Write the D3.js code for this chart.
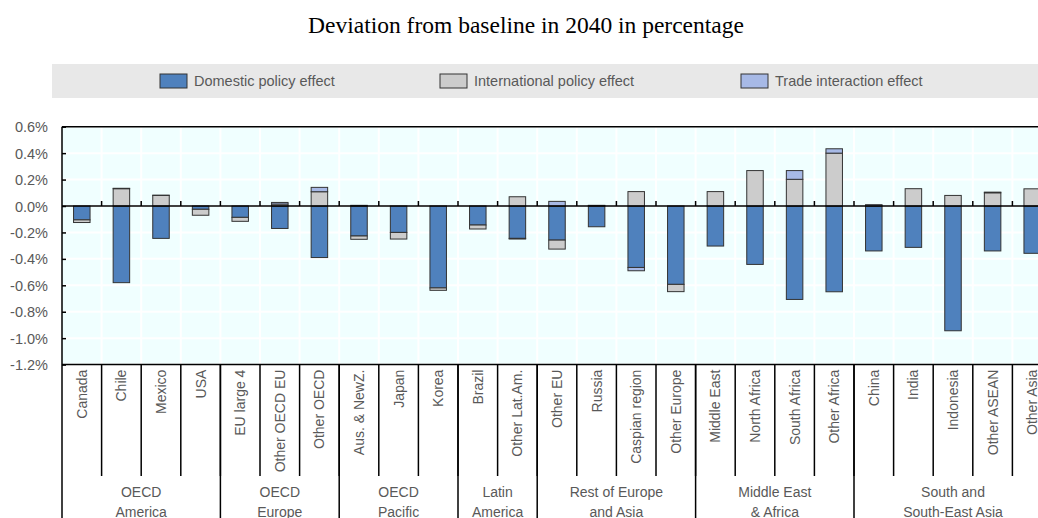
<!DOCTYPE html>
<html>
<head>
<meta charset="utf-8">
<script src="https://cdn.jsdelivr.net/npm/d3@7"></script>
<style>
  body { margin: 0; background: #fff; }
  svg { display: block; }
  text { font-family: "Liberation Sans", Arial, sans-serif; }
</style>
</head>
<body>
<svg id="chart" width="1038" height="518"></svg>
<script>
var categories = ["Canada", "Chile", "Mexico", "USA", "EU large 4", "Other OECD EU", "Other OECD",
  "Aus. & NewZ.", "Japan", "Korea", "Brazil", "Other Lat.Am.", "Other EU", "Russia",
  "Caspian region", "Other Europe", "Middle East", "North Africa", "South Africa", "Other Africa",
  "China", "India", "Indonesia", "Other ASEAN", "Other Asia"];

var domestic = [-0.105, -0.58, -0.245, -0.025, -0.086, -0.17, -0.39, -0.227, -0.2, -0.62, -0.144, -0.245,
  -0.258, -0.157, -0.465, -0.593, -0.303, -0.442, -0.707, -0.649, -0.34, -0.313, -0.944, -0.34, -0.358];
var international = [-0.02, 0.131, 0.08, -0.045, -0.03, 0.015, 0.108, -0.025, -0.05, -0.018, -0.03, 0.07,
  -0.068, 0.0, 0.109, -0.055, 0.109, 0.268, 0.202, 0.40, 0.0, 0.131, 0.08, 0.10, 0.13];
var trade = [0, 0.003, 0.002, 0, 0, 0.012, 0.033, 0.005, 0, 0, 0, -0.005,
  0.035, 0.005, -0.025, 0, 0, 0, 0.066, 0.033, 0.01, 0, 0, 0.005, 0];

var seriesNames = ["Domestic policy effect", "International policy effect", "Trade interaction effect"];
var seriesColors = ["#4f81bd", "#cccccc", "#a7b9e6"];

var groupNames = [["OECD", "America"], ["OECD", "Europe"], ["OECD", "Pacific"], ["Latin", "America"],
  ["Rest of Europe", "and Asia"], ["Middle East", "& Africa"], ["South and", "South-East Asia"]];
var groupSizes = [4, 3, 3, 2, 4, 4, 5];

var yTicks = [0.6, 0.4, 0.2, 0.0, -0.2, -0.4, -0.6, -0.8, -1.0, -1.2];

var svg = d3.select("#chart");

var plotLeft = 62, plotTop = 126.7, plotBottom = 364.6;
var step = 39.6;
var plotRight = plotLeft + step * categories.length; // runs past the window, as in the source

var x = d3.scaleBand().domain(categories).range([plotLeft, plotRight]).padding(0);
var y = d3.scaleLinear().domain([-1.2, 0.6]).range([plotBottom, plotTop]);
var barW = 16.5;

// title
svg.append("text")
  .attr("x", 526).attr("y", 33)
  .attr("text-anchor", "middle")
  .style("font-family", "'Liberation Serif', 'Times New Roman', serif")
  .style("font-size", "23.5px")
  .attr("fill", "#000")
  .text("Deviation from baseline in 2040 in percentage");

// legend
svg.append("rect")
  .attr("x", 52).attr("y", 64).attr("width", 1000).attr("height", 34)
  .attr("fill", "#e8e8e8");

var legendX = [160, 440, 741];
var legend = svg.selectAll(".legend").data(seriesNames).enter().append("g")
  .attr("class", "legend")
  .attr("transform", function(d, i) { return "translate(" + legendX[i] + ",74)"; });
legend.append("rect")
  .attr("width", 27).attr("height", 14)
  .attr("fill", function(d, i) { return seriesColors[i]; })
  .attr("stroke", "#333").attr("stroke-width", 1);
legend.append("text")
  .attr("x", 34).attr("y", 12)
  .style("font-size", "14.5px")
  .attr("fill", "#595959")
  .text(function(d) { return d; });

// plot background + grid
svg.append("rect")
  .attr("x", plotLeft).attr("y", plotTop).attr("width", plotRight - plotLeft).attr("height", plotBottom - plotTop)
  .attr("fill", "#f0ffff");

svg.selectAll(".hgrid").data(yTicks).enter().append("line")
  .attr("x1", plotLeft).attr("x2", plotRight)
  .attr("y1", function(d) { return y(d); }).attr("y2", function(d) { return y(d); })
  .attr("stroke", "#fff").attr("stroke-width", 2);

svg.selectAll(".vgrid").data(categories.slice(1)).enter().append("line")
  .attr("x1", function(d) { return x(d); }).attr("x2", function(d) { return x(d); })
  .attr("y1", plotTop).attr("y2", plotBottom)
  .attr("stroke", "#fff").attr("stroke-width", 2);

// stacked bars
var rows = categories.map(function(c, i) {
  return { cat: c, d: domestic[i], n: international[i], t: trade[i] };
});
var stack = d3.stack().keys(["d", "n", "t"]).offset(d3.stackOffsetDiverging);
var layers = stack(rows);

svg.selectAll(".layer").data(layers).enter().append("g")
  .attr("fill", function(d, i) { return seriesColors[i]; })
  .selectAll("rect").data(function(d) { return d; }).enter().append("rect")
  .attr("x", function(d) { return x(d.data.cat) + (step - barW) / 2; })
  .attr("width", barW)
  .attr("y", function(d) { return y(Math.max(d[0], d[1])); })
  .attr("height", function(d) { return Math.abs(y(d[0]) - y(d[1])); })
  .attr("stroke", "#333").attr("stroke-width", 1)
  .attr("stroke-opacity", function(d) { return d[0] === d[1] ? 0 : 1; });

// zero line with small ticks
svg.append("line")
  .attr("x1", plotLeft).attr("x2", plotRight).attr("y1", y(0)).attr("y2", y(0))
  .attr("stroke", "#000").attr("stroke-width", 1.5);
svg.selectAll(".ztick").data(categories.slice(1)).enter().append("line")
  .attr("x1", function(d) { return x(d); }).attr("x2", function(d) { return x(d); })
  .attr("y1", y(0) - 5).attr("y2", y(0))
  .attr("stroke", "#000").attr("stroke-width", 1.5);

// y axis (plain hyphen for the minus, like the source)
var yAxis = d3.axisLeft(y).tickValues(yTicks).tickSize(-4)
  .tickFormat(function(d) { return d.toFixed(1) + "%"; });
var gy = svg.append("g").attr("transform", "translate(" + plotLeft + ",0)").call(yAxis);
gy.select(".domain").remove();
gy.selectAll(".tick line").attr("stroke", "#000").attr("stroke-width", 1.5);
gy.selectAll(".tick text")
  .attr("x", -14).attr("dy", "0.35em")
  .style("font-size", "14.5px")
  .style("font-family", "'Liberation Sans', Arial, sans-serif")
  .attr("fill", "#595959");

// plot frame
svg.append("line").attr("x1", plotLeft).attr("x2", plotRight).attr("y1", plotTop).attr("y2", plotTop)
  .attr("stroke", "#000").attr("stroke-width", 1.5);
svg.append("line").attr("x1", plotLeft).attr("x2", plotLeft).attr("y1", plotTop).attr("y2", 518)
  .attr("stroke", "#000").attr("stroke-width", 1.5);
svg.append("line").attr("x1", plotLeft).attr("x2", plotRight).attr("y1", plotBottom).attr("y2", plotBottom)
  .attr("stroke", "#000").attr("stroke-width", 1.5);

// category separators and labels
svg.selectAll(".csep").data(categories.slice(1)).enter().append("line")
  .attr("x1", function(d) { return x(d); }).attr("x2", function(d) { return x(d); })
  .attr("y1", plotBottom).attr("y2", 476)
  .attr("stroke", "#000").attr("stroke-width", 1.5);

svg.selectAll(".clabel").data(categories).enter().append("text")
  .attr("transform", function(d) {
    return "translate(" + (x(d) + step / 2) + "," + (plotBottom + 5) + ") rotate(-90)";
  })
  .attr("text-anchor", "end")
  .attr("dy", "0.35em")
  .style("font-size", "14px")
  .attr("fill", "#595959")
  .text(function(d) { return d; });

// group separators and labels
var start = 0;
groupSizes.forEach(function(n, gi) {
  var gx0 = x(categories[start]);
  var gx1 = gx0 + n * step;
  if (gi < groupSizes.length - 1) {
    svg.append("line").attr("x1", gx1).attr("x2", gx1).attr("y1", plotBottom).attr("y2", 518)
      .attr("stroke", "#000").attr("stroke-width", 1.5);
  }
  var g = svg.append("text")
    .attr("x", (gx0 + gx1) / 2).attr("y", 497)
    .attr("text-anchor", "middle")
    .style("font-size", "14px")
    .attr("fill", "#595959");
  groupNames[gi].forEach(function(line, li) {
    g.append("tspan").attr("x", (gx0 + gx1) / 2).attr("dy", li === 0 ? 0 : 20).text(line);
  });
  start += n;
});
</script>
</body>
</html>
